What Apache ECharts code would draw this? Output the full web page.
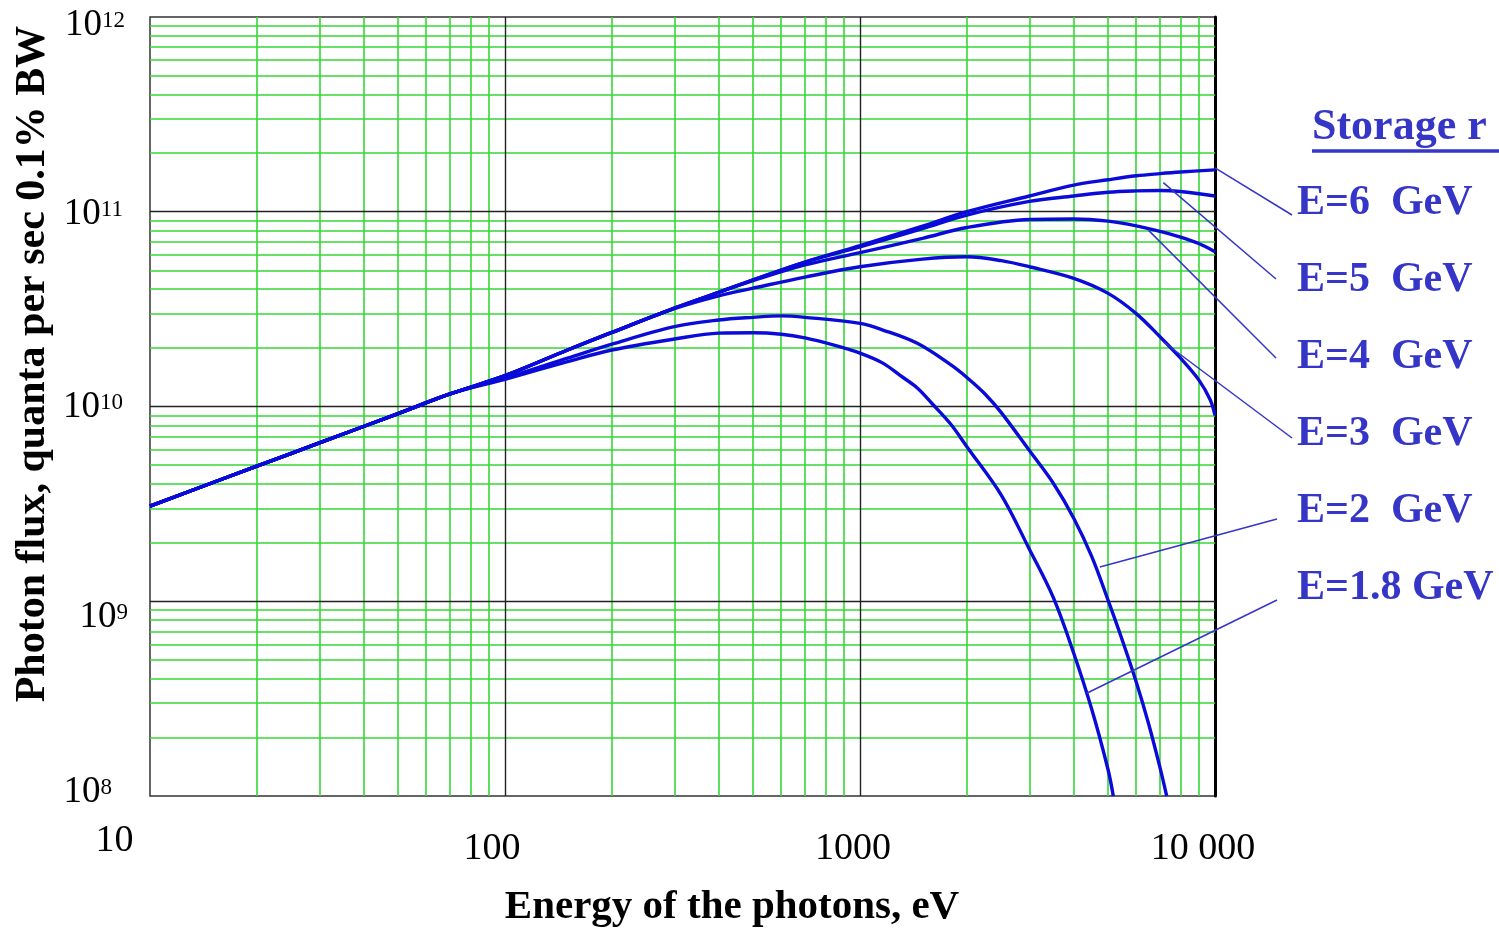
<!DOCTYPE html>
<html><head><meta charset="utf-8">
<script src="https://cdn.jsdelivr.net/npm/echarts@6/dist/echarts.min.js"></script>
<style>html,body{margin:0;padding:0;background:#fff}#c{width:1499px;height:932px}</style>
</head><body><div id="c"></div>
<script>
// ---------- data ----------
const seriesNames = ['E=6  GeV', 'E=5  GeV', 'E=4  GeV', 'E=3  GeV', 'E=2  GeV', 'E=1.8 GeV'];

const energyE6 = [10,20,30,50,70,100,150,200,300,400,500,700,1000,1500,2000,3000,4000,5000,6000,7000,8000,10000];
const fluxE6   = [3.08e9,4.94e9,6.5e9,9.2e9,1.16e10,1.44e10,1.95e10,2.40e10,3.2e10,3.86e10,4.47e10,5.52e10,6.7e10,8.43e10,1.0e11,1.205e11,1.37e11,1.46e11,1.53e11,1.57e11,1.60e11,1.64e11];

const energyE5 = [10,20,30,50,70,100,150,200,300,400,500,700,1000,1500,2000,3000,4000,5000,6000,7000,8000,10000];
const fluxE5   = [3.08e9,4.94e9,6.5e9,9.2e9,1.16e10,1.44e10,1.95e10,2.40e10,3.2e10,3.86e10,4.47e10,5.52e10,6.6e10,8.2e10,9.62e10,1.13e11,1.205e11,1.26e11,1.28e11,1.285e11,1.27e11,1.205e11];

const energyE4 = [10,20,30,50,70,100,150,200,300,400,500,700,1000,1500,2000,3000,4000,5000,6000,7000,8000,9000,10000];
const fluxE4   = [3.08e9,4.94e9,6.5e9,9.2e9,1.16e10,1.44e10,1.95e10,2.40e10,3.2e10,3.86e10,4.43e10,5.33e10,6.17e10,7.3e10,8.3e10,9.12e10,9.18e10,8.95e10,8.47e10,7.93e10,7.41e10,6.87e10,6.24e10];

const energyE3 = [10,20,30,50,70,100,150,200,300,400,500,700,1000,1500,2000,2500,3000,4000,5000,6000,7000,8000,9000,9700,10000];
const fluxE3   = [3.08e9,4.94e9,6.5e9,9.2e9,1.16e10,1.44e10,1.95e10,2.40e10,3.18e10,3.7e10,4.05e10,4.62e10,5.22e10,5.71e10,5.87e10,5.61e10,5.22e10,4.55e10,3.81e10,3.0e10,2.28e10,1.77e10,1.37e10,1.08e10,9.0e9];

const energyE2 = [10,20,30,50,70,100,150,200,300,400,500,600,700,1000,1160,1450,1800,2000,2250,2500,3000,3500,4000,4500,5000,5500,6000,6500,7000,7310];
const fluxE2   = [3.08e9,4.94e9,6.5e9,9.2e9,1.16e10,1.40e10,1.77e10,2.09e10,2.57e10,2.78e10,2.87e10,2.92e10,2.87e10,2.67e10,2.47e10,2.11e10,1.64e10,1.41e10,1.16e10,9.3e9,5.94e9,4.05e9,2.67e9,1.69e9,1.01e9,6.2e8,3.85e8,2.35e8,1.40e8,1.0e8];

const energyE18 = [10,20,30,50,70,100,150,200,300,400,500,600,700,850,1000,1160,1300,1450,1600,1800,2000,2500,3000,3500,4000,4500,5000,5170];
const fluxE18   = [3.08e9,4.94e9,6.5e9,9.2e9,1.16e10,1.38e10,1.70e10,1.95e10,2.22e10,2.38e10,2.39e10,2.35e10,2.25e10,2.06e10,1.88e10,1.67e10,1.44e10,1.245e10,1.03e10,8.13e9,6.22e9,3.51e9,1.85e9,1.05e9,5.41e8,2.77e8,1.36e8,1.0e8];

// points on each curve where the label leader lines start
const leaderEnergy = [10000, 7150, 6490, 7150, 4740, 4350];
const leaderFlux   = [1.68e11, 1.41e11, 8.05e10, 2.15e10, 1.50e9, 3.37e8];

// tick labels
const xTickLabels = ['10', '100', '1000', '10 000'];
const yTickExponents = ['8', '9', '10', '11', '12'];

// grid line values
const minorX = [20,30,40,50,60,70,80,90,200,300,400,500,600,700,800,900,2000,3000,4000,5000,6000,7000,8000,9000];
const majorX = [100, 1000];
const minorY = [];
[1e8, 1e9, 1e10, 1e11].forEach(d => { for (let m = 2; m <= 9; m++) minorY.push(m * d); });
const majorY = [1e9, 1e10, 1e11];

// ---------- chart ----------
const SERIF = 'Liberation Serif';
const CURVE = '#0b0bd9';
const LABEL_BLUE = '#3535c8';

const energies = [energyE6, energyE5, energyE4, energyE3, energyE2, energyE18];
const fluxes = [fluxE6, fluxE5, fluxE4, fluxE3, fluxE2, fluxE18];

const curveSeries = seriesNames.map((n, i) => ({
  name: n, type: 'line', z: 4,
  data: energies[i].map((e, j) => [e, fluxes[i][j]]),
  showSymbol: false, smooth: 0.35,
  lineStyle: { color: CURVE, width: 3.4 },
  itemStyle: { color: CURVE },
  silent: true
}));

// y label rich styles: [padTop, padBottom, padRight]
const yPad = { '8': [0, 8, 16], '9': [33, 0, 0], '10': [2, 0, 5], '11': [6, 0, 5], '12': [16, 0, 3] };
const yRich = {};
Object.keys(yPad).forEach(k => {
  const [pt, pb, pr] = yPad[k];
  yRich['b' + k] = { fontFamily: SERIF, fontSize: 37, lineHeight: 37, color: '#000', padding: [pt, 0, pb, 0] };
  yRich['s' + k] = { fontFamily: SERIF, fontSize: 23, lineHeight: 23, color: '#000', padding: [pt, pr, pb + 9, 0] };
});

const xRich = {
  x0: { fontFamily: SERIF, fontSize: 38, lineHeight: 38, color: '#000', padding: [0, 71, 0, 0] },
  x1: { fontFamily: SERIF, fontSize: 38, lineHeight: 38, color: '#000', padding: [17, 26, 0, 0] },
  x2: { fontFamily: SERIF, fontSize: 38, lineHeight: 38, color: '#000', padding: [17, 14, 0, 0] },
  x3: { fontFamily: SERIF, fontSize: 38, lineHeight: 38, color: '#000', padding: [17, 24, 0, 0] }
};

const option = {
  animation: false,
  backgroundColor: '#ffffff',
  grid: { left: 150, top: 17, width: 1065, height: 779, containLabel: false, outerBoundsMode: 'none',
          show: true, borderColor: '#333', borderWidth: 1.5, backgroundColor: 'transparent' },
  xAxis: {
    type: 'log', logBase: 10, min: 10, max: 10000,
    axisLine: { show: false }, axisTick: { show: false },
    splitLine: { show: false }, minorTick: { show: false }, minorSplitLine: { show: false },
    axisLabel: {
      margin: 26, showMinLabel: true, showMaxLabel: true,
      formatter: v => { const i = Math.round(Math.log10(v)) - 1; return '{x' + i + '|' + xTickLabels[i] + '}'; },
      rich: xRich
    }
  },
  yAxis: [{
    type: 'log', logBase: 10, min: 1e8, max: 1e12,
    axisLine: { show: false }, axisTick: { show: false },
    splitLine: { show: false }, minorTick: { show: false }, minorSplitLine: { show: false },
    axisLabel: {
      margin: 22, showMinLabel: true, showMaxLabel: true,
      formatter: v => { const e = String(Math.round(Math.log10(v))); return '{b' + e + '|10}{s' + e + '|' + yTickExponents[Number(e) - 8] + '}'; },
      rich: yRich
    }
  }, {
    type: 'log', logBase: 10, min: 1e8, max: 1e12, position: 'right',
    axisLine: { show: true, lineStyle: { color: '#000', width: 3 } },
    axisTick: { show: false }, axisLabel: { show: false }, splitLine: { show: false }
  }],
  series: [
    {
      name: 'minor grid', type: 'line', data: [], silent: true,
      markLine: {
        z: 1, silent: true, symbol: ['none', 'none'], label: { show: false }, animation: false,
        lineStyle: { color: '#35d835', width: 1.6, type: 'solid' },
        emphasis: { disabled: true },
        data: minorX.map(v => ({ xAxis: v })).concat(minorY.map(v => ({ yAxis: v })))
      }
    },
    {
      name: 'major grid', type: 'line', data: [], silent: true,
      markLine: {
        z: 2, silent: true, symbol: ['none', 'none'], label: { show: false }, animation: false,
        lineStyle: { color: '#222', width: 1.4, type: 'solid' },
        emphasis: { disabled: true },
        data: majorX.map(v => ({ xAxis: v })).concat(majorY.map(v => ({ yAxis: v })))
      }
    }
  ].concat(curveSeries)
};

const chart = echarts.init(document.getElementById('c'), null, { renderer: 'canvas' });
chart.setOption(option);

// annotation layer: titles, labels, leader lines
const labelLeft = 1297, labelTop = 203.5, labelStep = 77;
const leaderEnds = [[1292, 215], [1276, 279], [1276, 358], [1292, 438], [1277, 519], [1277, 600]];
const graphics = [];
graphics.push({
  type: 'text', x: 33, y: 364, rotation: Math.PI / 2, silent: true,
  style: { text: 'Photon flux, quanta per sec 0.1% BW', font: 'bold 42px "Liberation Serif"', fill: '#000', align: 'center', verticalAlign: 'middle' }
});
graphics.push({
  type: 'text', x: 732, y: 907, silent: true,
  style: { text: 'Energy of the photons, eV', font: 'bold 41px "Liberation Serif"', fill: '#000', align: 'center', verticalAlign: 'middle' }
});
graphics.push({
  type: 'text', x: 1312, y: 128, silent: true,
  style: { text: 'Storage r', font: 'bold 44px "Liberation Serif"', fill: LABEL_BLUE, align: 'left', verticalAlign: 'middle' }
});
graphics.push({
  type: 'line', silent: true, shape: { x1: 1312, y1: 151, x2: 1499, y2: 151 },
  style: { stroke: LABEL_BLUE, lineWidth: 3.5 }
});
seriesNames.forEach((n, i) => {
  graphics.push({
    type: 'text', x: labelLeft, y: labelTop + i * labelStep, silent: true,
    style: { text: n, font: 'bold 42px "Liberation Serif"', fill: LABEL_BLUE, align: 'left', verticalAlign: 'middle' }
  });
  const p = chart.convertToPixel({ gridIndex: 0 }, [leaderEnergy[i], leaderFlux[i]]);
  graphics.push({
    type: 'line', silent: true, z: 10,
    shape: { x1: p[0], y1: p[1], x2: leaderEnds[i][0], y2: leaderEnds[i][1] },
    style: { stroke: LABEL_BLUE, lineWidth: 1.5 }
  });
});
chart.setOption({ graphic: graphics });
</script>
</body></html>
